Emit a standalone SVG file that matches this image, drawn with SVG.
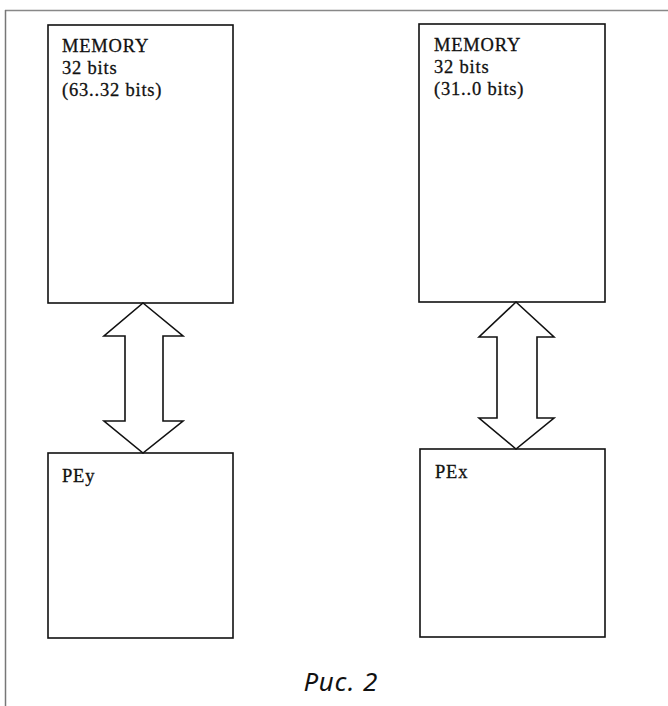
<svg xmlns="http://www.w3.org/2000/svg" width="668" height="706" viewBox="0 0 668 706">
<style>
.box{fill:#fff;stroke:#111;stroke-width:1.6}
.arr{fill:#fff;stroke:#111;stroke-width:1.6;stroke-linejoin:miter}
.t{font-family:"Liberation Serif",serif;font-size:18.5px;letter-spacing:0.8px;fill:#111;stroke:#111;stroke-width:0.3}
.cap{font-family:"Noto Sans","Open Sans",sans-serif;font-style:italic;font-size:26px;letter-spacing:1px;fill:#111}
</style>
<rect width="668" height="706" fill="#fff"/>
<g id="frame">
<line x1="5" y1="10.5" x2="668" y2="10.5" stroke="#888" stroke-width="1.5"/>
<line x1="5.5" y1="10" x2="5.5" y2="706" stroke="#777" stroke-width="1.5"/>
</g>
<g id="mem-left">
<rect class="box" x="48" y="25" width="185" height="278"/>
<text class="t" x="62" y="52">MEMORY</text>
<text class="t" x="62" y="74">32 bits</text>
<text class="t" x="62" y="96">(63..32 bits)</text>
</g>
<g id="mem-right">
<rect class="box" x="419" y="24" width="186" height="278"/>
<text class="t" x="434" y="51">MEMORY</text>
<text class="t" x="434" y="73">32 bits</text>
<text class="t" x="434" y="95">(31..0 bits)</text>
</g>
<g id="pey">
<rect class="box" x="48" y="453" width="185" height="185"/>
<text class="t" x="62" y="482">PEy</text>
</g>
<g id="pex">
<rect class="box" x="420" y="449" width="185" height="188"/>
<text class="t" x="435" y="478">PEx</text>
</g>
<g id="connectors">
<polygon class="arr" points="143,303 183,336 163,336 163,421 183,421 143,453 104,421 125,421 125,336 104,336"/>
<polygon class="arr" points="516,302 554,337 537,337 537,418 554,418 516,449 479,418 497,418 497,337 479,337"/>
</g>
<text class="cap" x="341" y="691" text-anchor="middle">Рис. 2</text>
</svg>
